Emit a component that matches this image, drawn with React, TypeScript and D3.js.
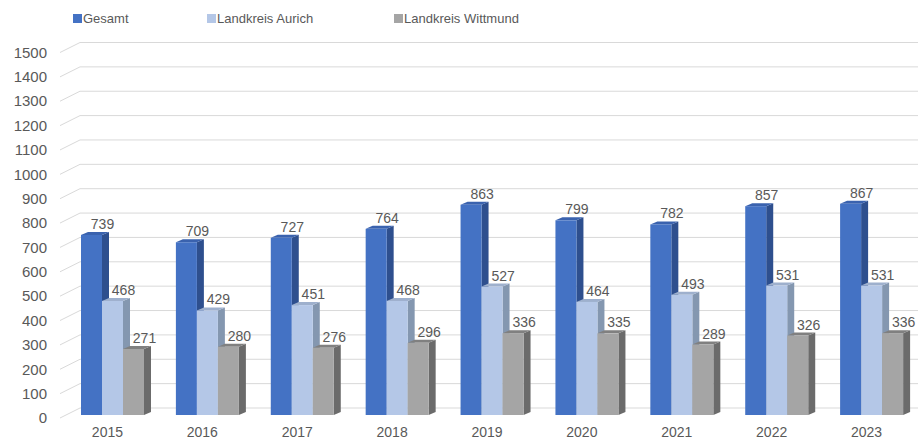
import React from 'react';
import * as d3 from 'd3';

const years = ['2015', '2016', '2017', '2018', '2019', '2020', '2021', '2022', '2023'];
const gesamt = [739, 709, 727, 764, 863, 799, 782, 857, 867];
const aurich = [468, 429, 451, 468, 527, 464, 493, 531, 531];
const wittmund = [271, 280, 276, 296, 336, 335, 289, 326, 336];
const yTicks = [0, 100, 200, 300, 400, 500, 600, 700, 800, 900, 1000, 1100, 1200, 1300, 1400, 1500];

const seriesNames = ['Gesamt', 'Landkreis Aurich', 'Landkreis Wittmund'];
const seriesValues = [gesamt, aurich, wittmund];
// front, side, top
const palette = [
  ['#4472C4', '#2E4F8E', '#3A62AE'],
  ['#B4C7E7', '#8497B0', '#9EB0CD'],
  ['#A5A5A5', '#6B6B6B', '#808080'],
];

const W = 922;
const H = 442;
const font = '"Liberation Sans", Arial, sans-serif';
const textColor = '#595959';

// gridlines: front edge + back wall (3D depth)
const gridDx = 20;
const gridDy = -10;
const depthDx = 7;
const depthDy = -3;
const barW = 21;

const App = () => {
  const x = d3.scaleBand<string>().domain(years).range([60, 914]).padding(0);
  const yFront = d3.scaleLinear().domain([0, 1500]).range([418, 52.5]);
  const yBar = d3.scaleLinear().domain([0, 1500]).range([415, 49.5]);

  const bars: React.ReactNode[] = [];
  const labels: React.ReactNode[] = [];
  years.forEach((yr, i) => {
    const x0 = (x(yr) as number) + 21;
    seriesValues.forEach((vals, s) => {
      const v = vals[i];
      const bx = x0 + s * barW;
      const top = yBar(v);
      const bottom = yBar(0);
      const [front, side, topC] = palette[s];
      bars.push(
        <g key={yr + s}>
          <polygon
            points={`${bx + barW},${top} ${bx + barW + depthDx},${top + depthDy} ${bx + barW + depthDx},${bottom + depthDy} ${bx + barW},${bottom}`}
            fill={side}
          />
          <polygon
            points={`${bx},${top} ${bx + depthDx},${top + depthDy} ${bx + barW + depthDx},${top + depthDy} ${bx + barW},${top}`}
            fill={topC}
          />
          <rect x={bx} y={top} width={barW} height={bottom - top} fill={front} />
        </g>
      );
      labels.push(
        <text
          key={'l' + yr + s}
          x={bx + barW / 2 + 11}
          y={top - 6}
          textAnchor="middle"
          fontSize={14}
          fill={textColor}
          fontFamily={font}
        >
          {v}
        </text>
      );
    });
  });

  return (
    <svg
      width={W}
      height={H}
      style={{ position: 'absolute', left: 0, top: 0, background: '#fff' }}
    >
      {/* legend */}
      {seriesNames.map((name, s) => {
        const lx = [73, 207, 394][s];
        return (
          <g key={name}>
            <rect x={lx} y={14} width={9} height={9} fill={palette[s][0]} />
            <text x={lx + 10} y={23} fontSize={13} fill={textColor} fontFamily={font}>
              {name}
            </text>
          </g>
        );
      })}

      {/* gridlines */}
      {yTicks.map((t) => {
        const fy = yFront(t);
        return (
          <g key={t}>
            <polyline
              points={`60,${fy} ${60 + gridDx},${fy + gridDy} 918,${fy + gridDy}`}
              fill="none"
              stroke="#D9D9D9"
              strokeWidth={1}
            />
            <text
              x={47}
              y={fy}
              dy="0.35em"
              textAnchor="end"
              fontSize={15}
              fill={textColor}
              fontFamily={font}
            >
              {t}
            </text>
          </g>
        );
      })}

      {bars}
      {labels}

      {/* x axis labels */}
      {years.map((yr) => (
        <text
          key={yr}
          x={(x(yr) as number) + x.bandwidth() / 2}
          y={437}
          textAnchor="middle"
          fontSize={14}
          fill={textColor}
          fontFamily={font}
        >
          {yr}
        </text>
      ))}
    </svg>
  );
};

export default App;
